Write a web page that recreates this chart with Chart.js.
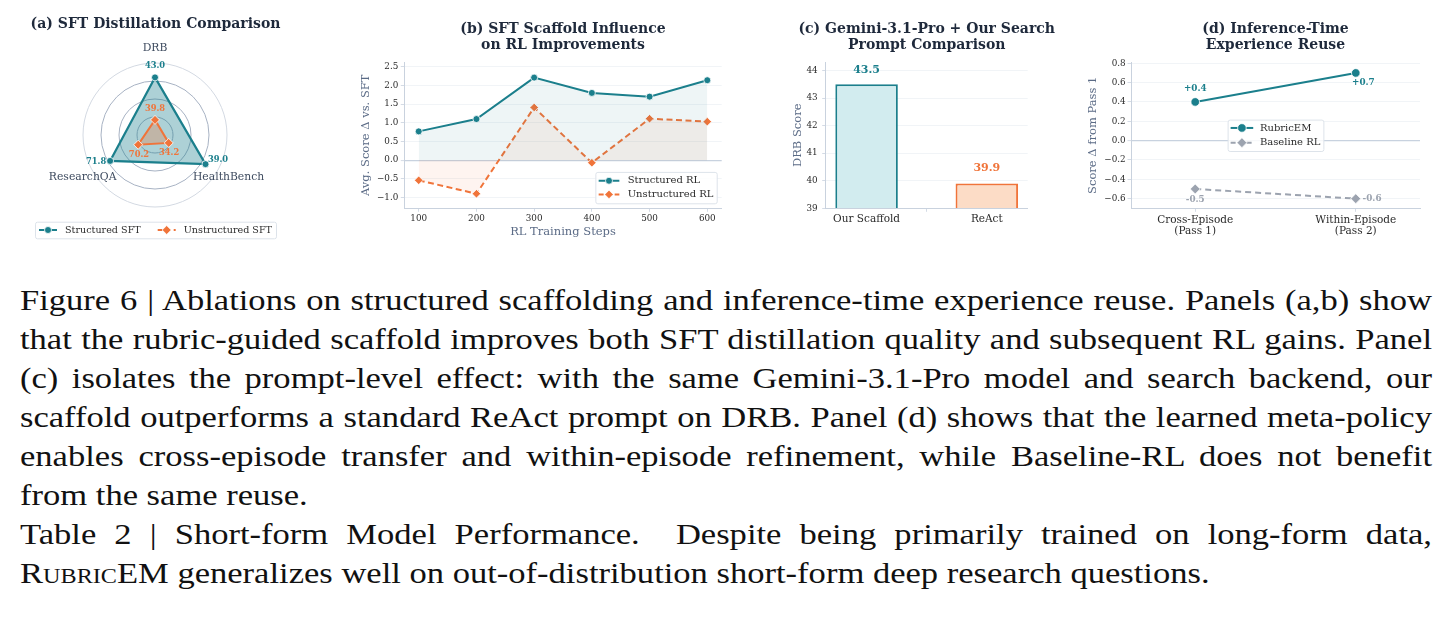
<!DOCTYPE html>
<html>
<head>
<meta charset="utf-8">
<script src="https://cdn.jsdelivr.net/npm/chart.js@4.4.1/dist/chart.umd.min.js"></script>
<style>
body { margin: 0; background: #fff; width: 1450px; height: 617px; overflow: hidden; position: relative; }
canvas { position: absolute; top: 0; }
#caption { position: absolute; left: 20px; top: 280px; width: 1412px; font-family: 'Liberation Serif', serif; font-size: 30px; color: #111; transform-origin: 0 0; }
.ln { height: 39px; line-height: 39px; text-align: justify; text-align-last: justify; white-space: nowrap; }
.last { text-align: left; text-align-last: left; }
.sc { font-variant: small-caps; }
#measure { position: absolute; visibility: hidden; white-space: nowrap; font-family: 'Liberation Serif', serif; font-size: 30px; }
</style>
</head>
<body>
<canvas id="cA" width="311" height="250" style="left:0px"></canvas>
<canvas id="cB" width="400" height="245" style="left:340px"></canvas>
<canvas id="cC" width="310" height="245" style="left:760px"></canvas>
<canvas id="cD" width="380" height="245" style="left:1070px"></canvas>

<div id="caption">
  <div class="ln">Figure 6 | Ablations on structured scaffolding and inference-time experience reuse. Panels (a,b) show</div>
  <div class="ln">that the rubric-guided scaffold improves both SFT distillation quality and subsequent RL gains. Panel</div>
  <div class="ln">(c) isolates the prompt-level effect: with the same Gemini-3.1-Pro model and search backend, our</div>
  <div class="ln">scaffold outperforms a standard ReAct prompt on DRB. Panel (d) shows that the learned meta-policy</div>
  <div class="ln">enables cross-episode transfer and within-episode refinement, while Baseline-RL does not benefit</div>
  <div class="ln last">from the same reuse.</div>
  <div class="ln">Table 2 | Short-form Model Performance. &nbsp;Despite being primarily trained on long-form data,</div>
  <div class="ln last"><span class="sc">Rubric</span>EM generalizes well on out-of-distribution short-form deep research questions.</div>
</div>
<span id="measure"></span>

<script>
// (a) SFT distillation radar
const radarAxes = ['DRB', 'HealthBench', 'ResearchQA'];
const sftStructuredScore = [43.0, 39.0, 71.8];
const sftUnstructuredScore = [39.8, 34.2, 70.2];
// where each point sits on the normalised 0-1 radar
const sftStructuredRadius = [0.80, 0.81, 0.72];
const sftUnstructuredRadius = [0.21, 0.22, 0.27];

// (b) RL improvements
const rlSteps = [100, 200, 300, 400, 500, 600];
const rlStructured = [0.77, 1.10, 2.21, 1.80, 1.70, 2.14];
const rlUnstructured = [-0.54, -0.90, 1.41, -0.07, 1.11, 1.03];
const rlYTicks = [-1.0, -0.5, 0, 0.5, 1.0, 1.5, 2.0, 2.5];

// (c) prompt comparison
const promptNames = ['Our Scaffold', 'ReAct'];
const promptDRB = [43.5, 39.9];
const promptYTicks = [39, 40, 41, 42, 43, 44];

// (d) experience reuse
const reusePhases = [['Cross-Episode', '(Pass 1)'], ['Within-Episode', '(Pass 2)']];
const reuseRubricEM = [0.4, 0.7];
const reuseBaseline = [-0.5, -0.6];
const reuseYTicks = [-0.6, -0.4, -0.2, 0, 0.2, 0.4, 0.6, 0.8];

const TEAL = '#1b7f8c', ORANGE = '#f0743a', GRAY = '#9ca3af';
const SERIF = "'DejaVu Serif', serif";
const TICK = '#2b2b2b', AXIS = '#5b6b86', SPINE = '#c9d2de', GRID = '#edf1f5', ZERO = '#c8d2df';

// caption: the original face is wider than Times, so stretch the block sideways
(function () {
  const m = document.getElementById('measure');
  const cap = document.getElementById('caption');
  let s = 2;
  document.querySelectorAll('#caption .ln').forEach(el => {
    if (el.classList.contains('last')) return;
    m.innerHTML = el.innerHTML;
    s = Math.min(s, 1402 / m.getBoundingClientRect().width);
  });
  cap.style.width = (1412 / s) + 'px';
  cap.style.transform = 'scaleX(' + s + ')';
})();

Chart.defaults.font.family = SERIF;
Chart.defaults.color = TICK;
Chart.defaults.animation = false;
Chart.defaults.responsive = false;
Chart.defaults.plugins.legend.display = false;
Chart.defaults.plugins.tooltip.enabled = false;

function minus(s) { return s.replace('-', '\u2212'); }

function drawMarker(ctx, style, x, y, r, fill) {
  ctx.beginPath();
  if (style === 'rectRot') {
    ctx.moveTo(x, y - r); ctx.lineTo(x + r, y); ctx.lineTo(x, y + r); ctx.lineTo(x - r, y); ctx.closePath();
  } else {
    ctx.arc(x, y, r, 0, Math.PI * 2);
  }
  ctx.fillStyle = fill; ctx.fill();
  ctx.lineWidth = 0.8; ctx.strokeStyle = '#fff'; ctx.stroke();
}

// panel titles, centred over the plot area
const panelTitle = {
  id: 'panelTitle',
  afterDraw(chart, args, o) {
    if (!o.lines) return;
    const ctx = chart.ctx, a = chart.chartArea;
    ctx.save();
    ctx.font = 'bold 14px ' + SERIF;
    ctx.fillStyle = '#1e293b';
    ctx.textAlign = 'center';
    ctx.textBaseline = 'middle';
    o.lines.forEach((t, i) => ctx.fillText(t, (a.left + a.right) / 2, o.y + i * 15.7));
    ctx.restore();
  }
};

// matplotlib style boxed legend
const boxLegend = {
  id: 'boxLegend',
  afterDraw(chart, args, o) {
    if (!o.mode) return;
    const ctx = chart.ctx, a = chart.chartArea, ds = chart.data.datasets;
    ctx.save();
    ctx.font = (o.font || 10) + 'px ' + SERIF;
    const tw = ds.map(d => ctx.measureText(d.label).width);
    const sw = o.swatch, gap = o.gap, pad = o.pad;
    let w, h, x0, y0;
    if (o.mode === 'row') {
      w = pad * 2 + ds.length * (sw + gap) + tw.reduce((s, t) => s + t, 0) + (ds.length - 1) * o.itemGap;
      h = o.rowH + 2 * o.padY;
      x0 = (a.left + a.right) / 2 - w / 2; y0 = a.bottom + o.below;
    } else {
      w = pad * 2 + sw + gap + Math.max(...tw);
      h = ds.length * o.rowH + 2 * o.padY;
      if (o.mode === 'lowerRight') { x0 = a.right - o.inset - w; y0 = a.bottom - o.inset - h; }
      else { x0 = (a.left + a.right) / 2 - w / 2; y0 = (a.top + a.bottom) / 2 - h / 2; }
    }
    ctx.beginPath();
    if (ctx.roundRect) ctx.roundRect(x0 + 0.5, y0 + 0.5, w, h, 2); else ctx.rect(x0 + 0.5, y0 + 0.5, w, h);
    ctx.fillStyle = 'rgba(255,255,255,0.85)'; ctx.fill();
    ctx.strokeStyle = '#dde3ea'; ctx.lineWidth = 1; ctx.stroke();
    let x = x0 + pad;
    ds.forEach((d, i) => {
      const y = o.mode === 'row' ? y0 + o.padY + o.rowH / 2 : y0 + o.padY + o.rowH * (i + 0.5);
      if (o.mode !== 'row') x = x0 + pad;
      ctx.save();
      ctx.strokeStyle = d.borderColor; ctx.lineWidth = 2; ctx.setLineDash(o.dash[i] || []);
      ctx.beginPath(); ctx.moveTo(x, y); ctx.lineTo(x + sw, y); ctx.stroke();
      ctx.restore();
      drawMarker(ctx, d.pointStyle, x + sw / 2, y, d.pointRadius, d.borderColor);
      ctx.fillStyle = TICK; ctx.textAlign = 'left'; ctx.textBaseline = 'middle';
      ctx.fillText(d.label, x + sw + gap, y);
      x += sw + gap + tw[i] + o.itemGap;
    });
    ctx.restore();
  }
};

// numbers written next to points / bars
const valueLabels = {
  id: 'valueLabels',
  afterDatasetsDraw(chart, args, o) {
    if (!o.sets) return;
    const ctx = chart.ctx;
    o.sets.forEach(s => {
      const meta = chart.getDatasetMeta(s.dataset);
      ctx.save();
      ctx.font = 'bold ' + s.size + 'px ' + SERIF;
      ctx.textBaseline = 'middle';
      meta.data.forEach((el, i) => {
        const off = s.offsets[i];
        ctx.fillStyle = Array.isArray(s.color) ? s.color[i] : s.color;
        ctx.textAlign = off[2] || 'center';
        ctx.fillText(s.texts[i], el.x + off[0], el.y + off[1]);
      });
      ctx.restore();
    });
  }
};

// radar axis names, placed through the radial scale
const radarNames = {
  id: 'radarNames',
  afterDraw(chart, args, o) {
    if (!o.factors) return;
    const r = chart.scales.r, ctx = chart.ctx;
    ctx.save();
    ctx.font = '10.8px ' + SERIF;
    ctx.fillStyle = '#3e4b5f';
    ctx.textAlign = 'center';
    ctx.textBaseline = 'middle';
    chart.data.labels.forEach((t, i) => {
      const p = r.getPointPosition(i, r.drawingArea * o.factors[i]);
      ctx.fillText(t, p.x, p.y);
    });
    ctx.restore();
  }
};

Chart.register(panelTitle, boxLegend, valueLabels, radarNames);

function valueAxis(c) {
  const isZero = ctx => c.zero && ctx.tick && ctx.tick.value === 0;
  return {
    min: c.min, max: c.max,
    afterFit: s => { s.width = c.width; },
    afterBuildTicks: s => { s.ticks = c.ticks.map(v => ({value: v})); },
    ticks: {font: {size: 8.8}, color: TICK, padding: c.labelPad, callback: c.fmt},
    grid: {color: ctx => isZero(ctx) ? ZERO : GRID, lineWidth: ctx => isZero(ctx) ? 1.2 : 0.8,
           tickColor: SPINE, tickLength: 3.5, tickWidth: 0.8},
    border: {color: SPINE, width: 1},
    title: {display: true, text: c.title, color: AXIS, font: {size: 11.5}, padding: {top: c.titlePad, bottom: 0}}
  };
}

function stepAxis(c) {
  return {
    type: 'linear', min: c.min, max: c.max, offset: false,
    afterFit: s => { s.height = 36.7; },
    afterBuildTicks: s => { s.ticks = c.ticks.map(v => ({value: v})); },
    ticks: {font: {size: c.size, lineHeight: 1.05}, color: TICK, padding: c.labelPad, maxRotation: 0, callback: c.fmt},
    grid: {drawOnChartArea: false, tickColor: SPINE, tickLength: 3.5, tickWidth: 0.8},
    border: {color: SPINE, width: 1},
    title: c.title ? {display: true, text: c.title, color: AXIS, font: {size: 11.5}, padding: {top: 0, bottom: 5.8}} : {display: false}
  };
}

// (a)
new Chart(document.getElementById('cA'), {
  type: 'radar',
  data: {
    labels: radarAxes,
    datasets: [
      {label: 'Structured SFT', data: sftStructuredRadius, order: 1, fill: true,
       borderColor: TEAL, backgroundColor: 'rgba(27,127,140,0.36)', borderWidth: 2.2,
       pointStyle: 'circle', pointRadius: 3.5, pointBackgroundColor: TEAL, pointBorderColor: '#fff', pointBorderWidth: 0.8},
      {label: 'Unstructured SFT', data: sftUnstructuredRadius, order: 0, fill: true,
       borderColor: ORANGE, backgroundColor: 'rgba(240,116,58,0.30)', borderWidth: 2,
       pointStyle: 'rectRot', pointRadius: 4.5, pointBackgroundColor: ORANGE, pointBorderColor: '#fff', pointBorderWidth: 0.8}
    ]
  },
  options: {
    layout: {padding: {top: 63.5, bottom: 42.5, left: 0, right: 0}},
    elements: {line: {tension: 0}},
    scales: {
      r: {
        min: 0, max: 1,
        ticks: {display: false, stepSize: 0.25},
        grid: {circular: true, color: ctx => ctx.index === 4 ? '#d3d9e2' : '#a7b2c3', lineWidth: 1},
        angleLines: {display: false},
        pointLabels: {display: false}
      }
    },
    plugins: {
      panelTitle: {lines: ['(a) SFT Distillation Comparison'], y: 24.8},
      radarNames: {factors: [1.2, 1.18, 1.16]},
      valueLabels: {sets: [
        {dataset: 0, color: TEAL, size: 8.3, texts: sftStructuredScore.map(v => v.toFixed(1)),
         offsets: [[0, -12], [12.5, -4.3], [-14, 1.3]]},
        {dataset: 1, color: ORANGE, size: 8.3, texts: sftUnstructuredScore.map(v => v.toFixed(1)),
         offsets: [[0, -11], [0.4, 10.4], [0.8, 9.7]]}
      ]},
      boxLegend: {mode: 'row', font: 9.6, swatch: 18, gap: 8, pad: 4, padY: 0, rowH: 16.6, itemGap: 17, below: 14.2,
                  dash: [[], [5, 3]]}
    }
  }
});

// (b)
new Chart(document.getElementById('cB'), {
  type: 'line',
  data: {
    datasets: [
      {label: 'Structured RL', data: rlSteps.map((s, i) => ({x: s, y: rlStructured[i]})),
       borderColor: TEAL, backgroundColor: 'rgba(27,127,140,0.075)', fill: 'origin', borderWidth: 2,
       pointStyle: 'circle', pointRadius: 3.5, pointBackgroundColor: TEAL, pointBorderColor: '#fff', pointBorderWidth: 0.8},
      {label: 'Unstructured RL', data: rlSteps.map((s, i) => ({x: s, y: rlUnstructured[i]})),
       borderColor: ORANGE, backgroundColor: 'rgba(240,116,58,0.08)', fill: 'origin', borderWidth: 2, borderDash: [6, 3.5],
       pointStyle: 'rectRot', pointRadius: 4.3, pointBackgroundColor: ORANGE, pointBorderColor: '#fff', pointBorderWidth: 0.8}
    ]
  },
  options: {
    layout: {padding: {top: 62.3, right: 18.3, bottom: 0, left: 0}},
    elements: {line: {tension: 0}},
    scales: {
      x: stepAxis({min: 75, max: 625, ticks: rlSteps, size: 8.8, labelPad: 2, title: 'RL Training Steps',
                   fmt: v => String(v)}),
      y: valueAxis({min: -1.29, max: 2.62, ticks: rlYTicks, width: 64.3, labelPad: 2.5, titlePad: 19.1, zero: true,
                    title: 'Avg. Score \u0394 vs. SFT', fmt: v => minus(v.toFixed(1))})
    },
    plugins: {
      panelTitle: {lines: ['(b) SFT Scaffold Influence', 'on RL Improvements'], y: 29.3},
      boxLegend: {mode: 'lowerRight', swatch: 20.7, gap: 8.3, pad: 3.3, padY: 2, rowH: 13.7, inset: 5, dash: [[], [5, 3]]}
    }
  }
});

// (c)
new Chart(document.getElementById('cC'), {
  type: 'bar',
  data: {
    datasets: [{
      label: 'DRB Score', data: promptNames.map((n, i) => ({x: i, y: promptDRB[i]})),
      backgroundColor: ['#d2ecef', '#fcdcc6'], borderColor: [TEAL, ORANGE], borderWidth: 2,
      base: 39, barPercentage: 0.52, categoryPercentage: 1
    }]
  },
  options: {
    layout: {padding: {top: 62.3, right: 42.3, bottom: 0, left: 0}},
    scales: {
      x: stepAxis({min: -0.34, max: 1.34, ticks: [0, 1], size: 10.5, labelPad: 1.5, fmt: v => promptNames[v]}),
      y: valueAxis({min: 39, max: 44.3, ticks: promptYTicks, width: 65.7, labelPad: 4.5, titlePad: 31.4,
                    title: 'DRB Score', fmt: v => String(v)})
    },
    plugins: {
      panelTitle: {lines: ['(c) Gemini-3.1-Pro + Our Search', 'Prompt Comparison'], y: 29.3},
      valueLabels: {sets: [
        {dataset: 0, color: [TEAL, ORANGE], size: 11, texts: promptDRB.map(v => v.toFixed(1)),
         offsets: [[0, -14.6], [0, -15]]}
      ]}
    }
  }
});

// (d)
new Chart(document.getElementById('cD'), {
  type: 'line',
  data: {
    datasets: [
      {label: 'RubricEM', data: reuseRubricEM.map((v, i) => ({x: i, y: v})),
       borderColor: TEAL, borderWidth: 2, pointStyle: 'circle', pointRadius: 4.3,
       pointBackgroundColor: TEAL, pointBorderColor: '#fff', pointBorderWidth: 0.8},
      {label: 'Baseline RL', data: reuseBaseline.map((v, i) => ({x: i, y: v})),
       borderColor: GRAY, borderWidth: 2, borderDash: [6, 4], pointStyle: 'rectRot', pointRadius: 5,
       pointBackgroundColor: GRAY, pointBorderColor: '#fff', pointBorderWidth: 0.8}
    ]
  },
  options: {
    layout: {padding: {top: 62.3, right: 30, bottom: 0, left: 0}},
    elements: {line: {tension: 0}},
    scales: {
      x: stepAxis({min: -0.4, max: 1.4, ticks: [0, 1], size: 10.5, labelPad: 2.5, fmt: v => reusePhases[v]}),
      y: valueAxis({min: -0.7, max: 0.81, ticks: reuseYTicks, width: 61, labelPad: 1.8, titlePad: 16.1, zero: true,
                    title: 'Score \u0394 from Pass 1', fmt: v => minus(v.toFixed(1))})
    },
    plugins: {
      panelTitle: {lines: ['(d) Inference-Time', 'Experience Reuse'], y: 29.3},
      valueLabels: {sets: [
        {dataset: 0, color: TEAL, size: 8.8, texts: reuseRubricEM.map(v => '+' + v.toFixed(1)), offsets: [[0, -13], [7.6, 9.6]]},
        {dataset: 1, color: GRAY, size: 8.8, texts: reuseBaseline.map(v => v.toFixed(1)), offsets: [[0, 11], [16.3, 0]]}
      ]},
      boxLegend: {mode: 'center', swatch: 22.6, gap: 6.7, pad: 3, padY: 1, rowH: 14.7, dash: [[], [5, 3]]}
    }
  }
});
</script>
</body>
</html>
